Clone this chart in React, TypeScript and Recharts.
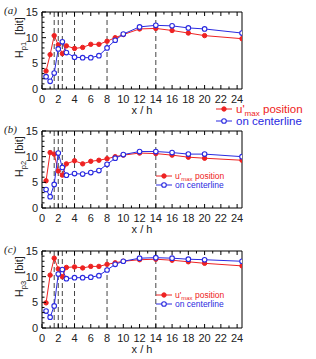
import React from "react";
import { LineChart, Line, XAxis, YAxis, ReferenceLine, Legend, Label } from "recharts";

// streamwise stations x/h (last one sits on the right frame)
const stations = [0.5, 1, 1.5, 2, 2.5, 3, 4, 5, 6, 7, 8, 9, 10, 12, 14, 16, 18, 20, 24.6];

// entropy H_p1 .. H_p3 [bit], at u'max position and on the centerline
const hp1Umax = [3.5, 6.7, 10.4, 8.6, 6.9, 8.4, 7.9, 8.1, 8.7, 8.7, 9.3, 10.0, 10.6, 11.7, 11.8, 11.4, 10.9, 10.4, 9.8];
const hp1Center = [2.4, 1.5, 3.1, 7.8, 9.2, 7.1, 6.2, 6.1, 6.1, 6.5, 8.0, 9.5, 10.7, 12.1, 12.4, 12.3, 11.9, 11.7, 10.9];
const hp2Umax = [5.3, 10.8, 10.5, 7.2, 6.4, 8.6, 9.2, 8.6, 9.1, 9.3, 9.6, 10.0, 10.3, 10.7, 10.6, 10.3, 9.9, 9.7, 9.3];
const hp2Center = [3.6, 2.2, 4.6, 10.7, 7.9, 6.4, 6.7, 6.6, 6.9, 7.3, 8.5, 9.7, 10.4, 11.0, 11.0, 10.8, 10.5, 10.5, 10.0];
const hp3Umax = [4.9, 10.3, 13.6, 11.5, 10.0, 11.8, 11.9, 11.7, 12.0, 12.0, 12.4, 12.7, 13.0, 13.3, 13.4, 13.2, 12.9, 12.6, 12.1];
const hp3Center = [3.3, 2.1, 4.3, 10.5, 11.4, 9.6, 9.8, 9.8, 9.9, 10.2, 11.3, 12.4, 13.0, 13.6, 13.7, 13.6, 13.4, 13.3, 13.0];

const markerLines = [1.5, 2, 2.5, 4, 8, 14];
const xTicks = Array.from({ length: 25 }, (_, i) => i);
const yTicks = Array.from({ length: 16 }, (_, i) => i);

const RED = "#ee2222";
const BLUE = "#2a2ae0";
const FONT = "'Liberation Sans', Arial, sans-serif";

const BottomTick = (props: any) => {
  const { x, y, payload } = props;
  const major = payload.value % 2 === 0;
  return (
    <g>
      <line x1={x} y1={y} x2={x} y2={y - (major ? 4 : 2.5)} stroke="#000" />
      {major && (
        <text x={x} y={y + 14} textAnchor="middle" fontSize={11} fontFamily={FONT} fill="#222">
          {payload.value}
        </text>
      )}
    </g>
  );
};

const TopTick = (props: any) => {
  const { x, y, payload } = props;
  const major = payload.value % 2 === 0;
  return <line x1={x} y1={y} x2={x} y2={y + (major ? 4 : 2.5)} stroke="#000" />;
};

const LeftTick = (props: any) => {
  const { x, y, payload } = props;
  const major = payload.value % 5 === 0;
  return (
    <g>
      <line x1={x} y1={y} x2={x + (major ? 4 : 2.5)} y2={y} stroke="#000" />
      {major && (
        <text x={x - 4} y={y + 4} textAnchor="end" fontSize={11} fontFamily={FONT} fill="#222">
          {payload.value}
        </text>
      )}
    </g>
  );
};

const RightTick = (props: any) => {
  const { x, y, payload } = props;
  const major = payload.value % 5 === 0;
  return <line x1={x} y1={y} x2={x - (major ? 4 : 2.5)} y2={y} stroke="#000" />;
};

interface LegendSpot {
  lineX: number;
  textX: number;
  y1: number;
  y2: number;
  size: number;
}

const makeLegend = (spot: LegendSpot) => () => {
  const { lineX, textX, y1, y2, size } = spot;
  return (
    <svg width={316} height={130} style={{ position: "absolute", left: 0, top: 0, overflow: "visible" }}>
      <line x1={lineX} y1={y1} x2={lineX + 16} y2={y1} stroke={RED} strokeWidth={1} />
      <circle cx={lineX + 8} cy={y1} r={2.2} fill={RED} stroke={RED} />
      <text x={textX} y={y1 + size * 0.35} fontSize={size} fontFamily={FONT} fill={RED}>
        u'<tspan fontSize={size * 0.7} dy={size * 0.25}>max</tspan>
        <tspan dy={-size * 0.25}> position</tspan>
      </text>
      <line x1={lineX} y1={y2} x2={lineX + 16} y2={y2} stroke={BLUE} strokeWidth={1} />
      <circle cx={lineX + 8} cy={y2} r={2.3} fill="#fff" stroke={BLUE} strokeWidth={1.1} />
      <text x={textX} y={y2 + size * 0.35} fontSize={size} fontFamily={FONT} fill={BLUE}>
        on centerline
      </text>
    </svg>
  );
};

interface PanelProps {
  tag: string;
  sub: string;
  umax: number[];
  center: number[];
  legend: LegendSpot;
  height: number;
}

const Panel = ({ tag, sub, umax, center, legend, height }: PanelProps) => {
  const rows = stations.map((x, i) => ({ x, umax: umax[i], center: center[i] }));
  const axisLabel = () => (
    <g fontFamily={FONT} fill="#222">
      <text x={4} y={14} fontSize={11} fontStyle="italic" fontFamily="'Liberation Serif', serif">
        ({tag})
      </text>
      <text x={23} y={26} fontSize={11} textAnchor="middle" transform="rotate(-90, 23, 26)">
        [bit]
      </text>
      <text x={23} y={50} fontSize={11} textAnchor="middle" transform="rotate(-90, 23, 50)">
        H<tspan fontSize={7.5} dy={3}>{sub}</tspan>
      </text>
      <text x={142} y={114} fontSize={11} textAnchor="middle">
        x / h
      </text>
    </g>
  );

  // axes take 1px each, so the plot frame is 42..242 x 12..89
  return (
    <LineChart
      width={316}
      height={height}
      data={rows}
      margin={{ top: 11, right: 73, bottom: height - 90, left: 41 }}
    >
      <XAxis
        xAxisId="b"
        dataKey="x"
        type="number"
        domain={[0, 24.6]}
        ticks={xTicks}
        interval={0}
        height={1}
        tickSize={0}
        tickMargin={0}
        tickLine={false}
        tick={<BottomTick />}
        stroke="#000"
        allowDataOverflow
      />
      <XAxis
        xAxisId="t"
        orientation="top"
        dataKey="x"
        type="number"
        domain={[0, 24.6]}
        ticks={xTicks}
        interval={0}
        height={1}
        tickSize={0}
        tickMargin={0}
        tickLine={false}
        tick={<TopTick />}
        stroke="#000"
        allowDataOverflow
      />
      <YAxis
        yAxisId="l"
        type="number"
        domain={[0, 15]}
        ticks={yTicks}
        interval={0}
        width={1}
        tickSize={0}
        tickMargin={0}
        tickLine={false}
        tick={<LeftTick />}
        stroke="#000"
      >
        <Label content={axisLabel} />
      </YAxis>
      <YAxis
        yAxisId="r"
        orientation="right"
        type="number"
        domain={[0, 15]}
        ticks={yTicks}
        interval={0}
        width={1}
        tickSize={0}
        tickMargin={0}
        tickLine={false}
        tick={<RightTick />}
        stroke="#000"
      />
      {markerLines.map((x) => (
        <ReferenceLine key={x} x={x} xAxisId="b" yAxisId="l" stroke="#444" strokeDasharray="5 3" />
      ))}
      <Line
        xAxisId="b"
        yAxisId="l"
        type="linear"
        dataKey="umax"
        stroke={RED}
        strokeWidth={1}
        dot={{ r: 2.2, fill: RED, stroke: RED, strokeWidth: 1 }}
        isAnimationActive={false}
      />
      <Line
        xAxisId="b"
        yAxisId="l"
        type="linear"
        dataKey="center"
        stroke={BLUE}
        strokeWidth={1}
        dot={{ r: 2.3, fill: "#fff", stroke: BLUE, strokeWidth: 1.1 }}
        isAnimationActive={false}
      />
      <Legend
        content={makeLegend(legend)}
        wrapperStyle={{ left: 0, top: 0, bottom: "auto", width: 0, height: 0 }}
      />
    </LineChart>
  );
};

export default function App() {
  return (
    <div style={{ position: "absolute", left: 0, top: 0, width: 316, height: 359, background: "#fff" }}>
      <div style={{ position: "absolute", left: 0, top: 0 }}>
        <Panel
          tag="a"
          sub="p1"
          umax={hp1Umax}
          center={hp1Center}
          height={130}
          legend={{ lineX: 216, textX: 236, y1: 109, y2: 121, size: 11.5 }}
        />
      </div>
      <div style={{ position: "absolute", left: 0, top: 119 }}>
        <Panel
          tag="b"
          sub="p2"
          umax={hp2Umax}
          center={hp2Center}
          height={120}
          legend={{ lineX: 156, textX: 175, y1: 57, y2: 66, size: 8.5 }}
        />
      </div>
      <div style={{ position: "absolute", left: 0, top: 239 }}>
        <Panel
          tag="c"
          sub="p3"
          umax={hp3Umax}
          center={hp3Center}
          height={120}
          legend={{ lineX: 156, textX: 175, y1: 56, y2: 65, size: 8.5 }}
        />
      </div>
    </div>
  );
}
